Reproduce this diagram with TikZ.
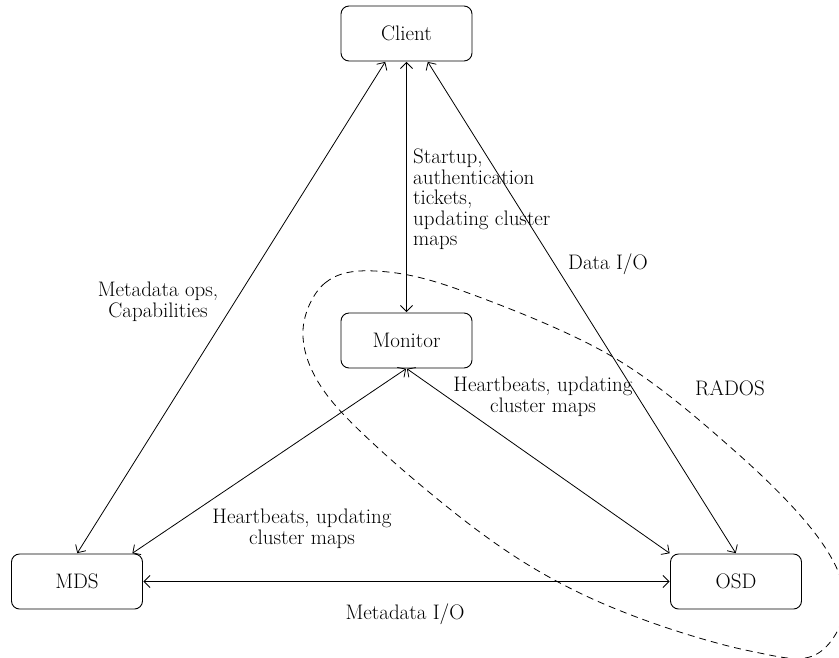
\documentclass[tikz,border=0pt]{standalone}
\usepackage{fontspec}
\usetikzlibrary{arrows.meta,calc}

\tikzset{
  box/.style={draw, line width=0.9pt, rounded corners=8pt, minimum width=131pt,
              minimum height=55pt, inner sep=0pt, font=\fontsize{21}{21}\selectfont},
  lbl/.style={inner sep=0pt, font=\fontsize{21}{20.5}\selectfont},
  link/.style={line width=0.8pt, {Straight Barb[length=6pt,width=12pt]}-{Straight Barb[length=6pt,width=12pt]}, shorten <=0.5pt, shorten >=0.5pt},
  region/.style={dash pattern=on 7pt off 5pt, line width=0.8pt}
}

\begin{document}
\begin{tikzpicture}[x=1pt,y=1pt]
  \useasboundingbox (0,0) rectangle (839,-657);

  % RADOS boundary
  \draw[region] plot[smooth cycle, tension=0.6] coordinates {
    (303,-330) (325,-283) (375,-271) (460,-290) (613,-357) (737,-453)
    (820,-540) (845,-605) (815,-655) (750,-651) (650,-622) (560,-583)
    (477,-530) (377,-447) (320,-385)};

  % components
  \node[box] (client)  at (406.5,-33.5)  {Client};
  \node[box] (monitor) at (406.5,-340.5) {Monitor};
  \node[box] (mds)     at (77,-581.5)    {MDS};
  \node[box] (osd)     at (736,-581.5)   {OSD};

  % links
  \draw[link] ([xshift=-21pt]client.south) -- (mds.north);
  \draw[link] (client.south) -- (monitor.north);
  \draw[link] ([xshift=21pt]client.south) -- (osd.north);
  \draw[link] (monitor.south) -- ([xshift=-11pt]mds.north east);
  \draw[link] (monitor.south) -- (osd.north west);
  \draw[link] (mds.east) -- (osd.west);

  % labels
  \node[lbl, align=left, anchor=north west] (lstart) at (413,-149)
    {Startup,\\authentication\\tickets,\\updating cluster\\maps};
  \node[lbl, align=center] (lmeta) at (158,-302) {Metadata ops,\\Capabilities};
  \node[lbl, anchor=west] (ldata) at (568,-264) {Data I/O};
  \node[lbl, align=center] (lhbr) at (543,-397) {Heartbeats, updating\\cluster maps};
  \node[lbl, align=center] (lhbl) at (302,-529) {Heartbeats, updating\\cluster maps};
  \node[lbl] (lrados) at (730,-388) {RADOS};
  \node[lbl] (lmio) at (405,-614) {Metadata I/O};
\end{tikzpicture}
\end{document}
